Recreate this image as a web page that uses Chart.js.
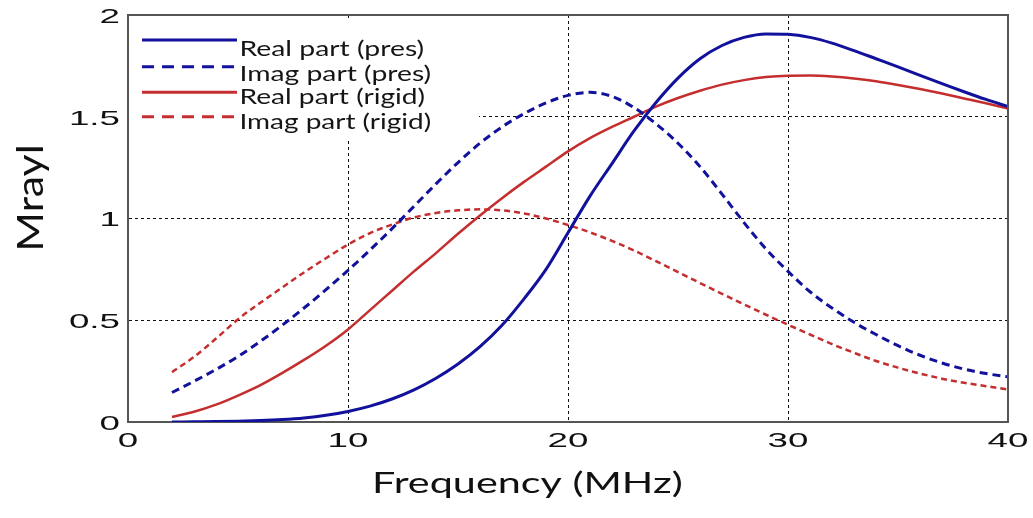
<!DOCTYPE html>
<html>
<head>
<meta charset="utf-8">
<title>Impedance vs frequency</title>
<script src="https://cdn.jsdelivr.net/npm/chart.js@4"></script>
<style>
  html, body { margin: 0; padding: 0; background: #fff; }
  canvas { display: block; }
</style>
</head>
<body>
<canvas id="c" width="1033" height="518"></canvas>
<script>
// Frequency samples (MHz)
const freq = [2, 3, 4, 5, 6, 7, 8, 9, 10, 11, 12, 13, 14, 15, 16, 17, 18, 19, 20,
              21, 22, 23, 24, 25, 26, 27, 28, 29, 30, 31, 32, 33, 34, 35, 36, 37, 38, 39, 40];

// Acoustic impedance, MRayl
const realPres = [0.0, 0.001, 0.002, 0.004, 0.007, 0.012, 0.02, 0.033, 0.052, 0.078,
                  0.113, 0.158, 0.215, 0.285, 0.37, 0.475, 0.605, 0.75, 0.93, 1.11,
                  1.27, 1.43, 1.57, 1.69, 1.785, 1.85, 1.89, 1.907, 1.905, 1.89,
                  1.862, 1.825, 1.785, 1.745, 1.703, 1.663, 1.623, 1.585, 1.55];
const imagPres = [0.145, 0.2, 0.258, 0.322, 0.395, 0.475, 0.56, 0.65, 0.745, 0.845,
                  0.95, 1.06, 1.17, 1.275, 1.37, 1.45, 1.515, 1.568, 1.605, 1.62,
                  1.6, 1.545, 1.465, 1.37, 1.255, 1.12, 0.98, 0.85, 0.74, 0.64,
                  0.56, 0.49, 0.43, 0.375, 0.328, 0.29, 0.26, 0.238, 0.222];
const realRigid = [0.025, 0.05, 0.085, 0.13, 0.18, 0.24, 0.305, 0.375, 0.455, 0.55,
                   0.645, 0.74, 0.83, 0.925, 1.015, 1.1, 1.18, 1.255, 1.33, 1.395,
                   1.45, 1.5, 1.55, 1.592, 1.628, 1.658, 1.68, 1.695, 1.702, 1.703,
                   1.698, 1.688, 1.674, 1.656, 1.636, 1.614, 1.59, 1.566, 1.54];
const imagRigid = [0.245, 0.32, 0.41, 0.505, 0.585, 0.66, 0.735, 0.805, 0.872, 0.928,
                   0.97, 1.005, 1.027, 1.04, 1.045, 1.04, 1.025, 1.0, 0.968, 0.932,
                   0.89, 0.843, 0.79, 0.737, 0.683, 0.63, 0.578, 0.527, 0.478, 0.43,
                   0.383, 0.34, 0.3, 0.267, 0.238, 0.213, 0.193, 0.176, 0.16];

// Axis ticks
const xTickValues = [0, 10, 20, 30, 40];
const yTickValues = [0, 0.5, 1, 1.5, 2];

const seriesNames = ['Real part (pres)', 'Imag part (pres)', 'Real part (rigid)', 'Imag part (rigid)'];
const xTitle = 'Frequency (MHz)';
const yTitle = 'Mrayl';

const BLUE = '#11119c';
const RED = '#c42e2e';

const toPoints = vals => freq.map((f, i) => ({ x: f, y: vals[i] }));

// Legend rows: colour and dash
const legendStyle = [
  { color: BLUE, dash: [] },
  { color: BLUE, dash: [12, 8] },
  { color: RED, dash: [] },
  { color: RED, dash: [12, 8] }
];

// Draws text scaled horizontally so its ink spans a given width
function inkText(ctx, text, font, inkLeft, baseline, inkWidth) {
  ctx.font = font;
  const m = ctx.measureText(text);
  const w = m.actualBoundingBoxLeft + m.actualBoundingBoxRight;
  const sx = inkWidth / w;
  ctx.save();
  ctx.textAlign = 'left';
  ctx.textBaseline = 'alphabetic';
  ctx.translate(inkLeft + m.actualBoundingBoxLeft * sx, baseline);
  ctx.scale(sx, 1);
  ctx.fillText(text, 0, 0);
  ctx.restore();
}

const TICK_FONT = '21px "Liberation Sans", Arial, sans-serif';
const TICK_SX = 1.75;

const decorations = {
  id: 'decorations',
  beforeDraw(chart) {
    const ctx = chart.ctx;
    ctx.save();
    ctx.fillStyle = '#fff';
    ctx.fillRect(0, 0, chart.width, chart.height);
    ctx.restore();
  },
  beforeDatasetsDraw(chart) {
    // white legend panel over the grid
    const ctx = chart.ctx;
    const a = chart.chartArea;
    ctx.save();
    ctx.fillStyle = '#fff';
    ctx.fillRect(a.left + 1, a.top + 5, 479 - a.left - 1, 118);
    ctx.restore();
  },
  afterDraw(chart) {
    const ctx = chart.ctx;
    const a = chart.chartArea;
    const xs = chart.scales.x, ys = chart.scales.y;

    // top and right frame edges
    ctx.save();
    ctx.strokeStyle = '#555';
    ctx.lineWidth = 2;
    ctx.beginPath();
    ctx.moveTo(a.left, a.top);
    ctx.lineTo(a.right, a.top);
    ctx.lineTo(a.right, a.bottom);
    ctx.stroke();
    ctx.restore();

    // tick labels
    ctx.save();
    ctx.fillStyle = '#111';
    ctx.font = TICK_FONT;
    ctx.textBaseline = 'alphabetic';
    xs.ticks.forEach(t => {
      const px = xs.getPixelForValue(t.value);
      ctx.save();
      ctx.translate(px, 447);
      ctx.scale(TICK_SX, 1);
      ctx.textAlign = 'center';
      ctx.fillText(t.label, 0, 0);
      ctx.restore();
    });
    ys.ticks.forEach(t => {
      const py = ys.getPixelForValue(t.value);
      ctx.save();
      ctx.translate(120, py + 7.8);
      ctx.scale(TICK_SX, 1);
      ctx.textAlign = 'right';
      ctx.fillText(t.label, 0, 0);
      ctx.restore();
    });
    ctx.restore();

    // axis titles
    ctx.save();
    ctx.fillStyle = '#111';
    inkText(ctx, xTitle, '28px Lato, sans-serif', 375, 493, 307);
    ctx.font = '36px Lato, sans-serif';
    const m = ctx.measureText(yTitle);
    const w = m.actualBoundingBoxLeft + m.actualBoundingBoxRight;
    const s = 101 / w;
    ctx.translate(43, 198);
    ctx.rotate(-Math.PI / 2);
    ctx.scale(s, 1);
    ctx.textAlign = 'center';
    ctx.textBaseline = 'alphabetic';
    ctx.fillText(yTitle, 0, 0);
    ctx.restore();

    // legend
    const lineY = [40, 66.7, 92.3, 116.7];
    const textBase = [55.7, 81, 104.3, 129.3];
    const textW = [181, 188, 182, 188];
    ctx.save();
    legendStyle.forEach((st, i) => {
      ctx.strokeStyle = st.color;
      ctx.lineWidth = 3;
      ctx.setLineDash(st.dash);
      ctx.beginPath();
      ctx.moveTo(142, lineY[i]);
      ctx.lineTo(237, lineY[i]);
      ctx.stroke();
    });
    ctx.setLineDash([]);
    ctx.fillStyle = '#151515';
    seriesNames.forEach((name, i) => {
      inkText(ctx, name, '22px Lato, sans-serif', 242, textBase[i], textW[i]);
    });
    ctx.restore();
  }
};

const edgeClear = (lo, hi) => c =>
  (c.tick && (c.tick.value === lo || c.tick.value === hi)) ? 'rgba(0,0,0,0)' : '#111';

new Chart(document.getElementById('c'), {
  type: 'line',
  data: {
    datasets: [
      { label: seriesNames[0], data: toPoints(realPres), borderColor: BLUE, borderWidth: 3 },
      { label: seriesNames[1], data: toPoints(imagPres), borderColor: BLUE, borderWidth: 3, borderDash: [8, 5] },
      { label: seriesNames[2], data: toPoints(realRigid), borderColor: RED, borderWidth: 2.5 },
      { label: seriesNames[3], data: toPoints(imagRigid), borderColor: RED, borderWidth: 2.5, borderDash: [6, 4] }
    ]
  },
  options: {
    responsive: false,
    animation: false,
    devicePixelRatio: 1,
    layout: { padding: { left: 128, right: 25, top: 15, bottom: 96 } },
    elements: {
      point: { radius: 0, hoverRadius: 0 },
      line: { cubicInterpolationMode: 'monotone', fill: false }
    },
    plugins: {
      legend: { display: false },
      tooltip: { enabled: false }
    },
    scales: {
      x: {
        type: 'linear',
        min: xTickValues[0],
        max: xTickValues[xTickValues.length - 1],
        afterBuildTicks: s => { s.ticks = xTickValues.map(v => ({ value: v })); },
        ticks: { display: false, callback: v => String(v) },
        afterFit: s => { s.height = 0; },
        grid: { color: edgeClear(0, 40), lineWidth: 1, drawTicks: false },
        border: { display: true, color: '#555', width: 2, dash: [3, 3] },
        title: { display: false }
      },
      y: {
        type: 'linear',
        min: yTickValues[0],
        max: yTickValues[yTickValues.length - 1],
        afterBuildTicks: s => { s.ticks = yTickValues.map(v => ({ value: v })); },
        ticks: { display: false, callback: v => String(v) },
        afterFit: s => { s.width = 0; },
        grid: { color: edgeClear(0, 2), lineWidth: 1, drawTicks: false },
        border: { display: true, color: '#555', width: 2, dash: [3, 3] },
        title: { display: false }
      }
    }
  },
  plugins: [decorations]
});
</script>
</body>
</html>
